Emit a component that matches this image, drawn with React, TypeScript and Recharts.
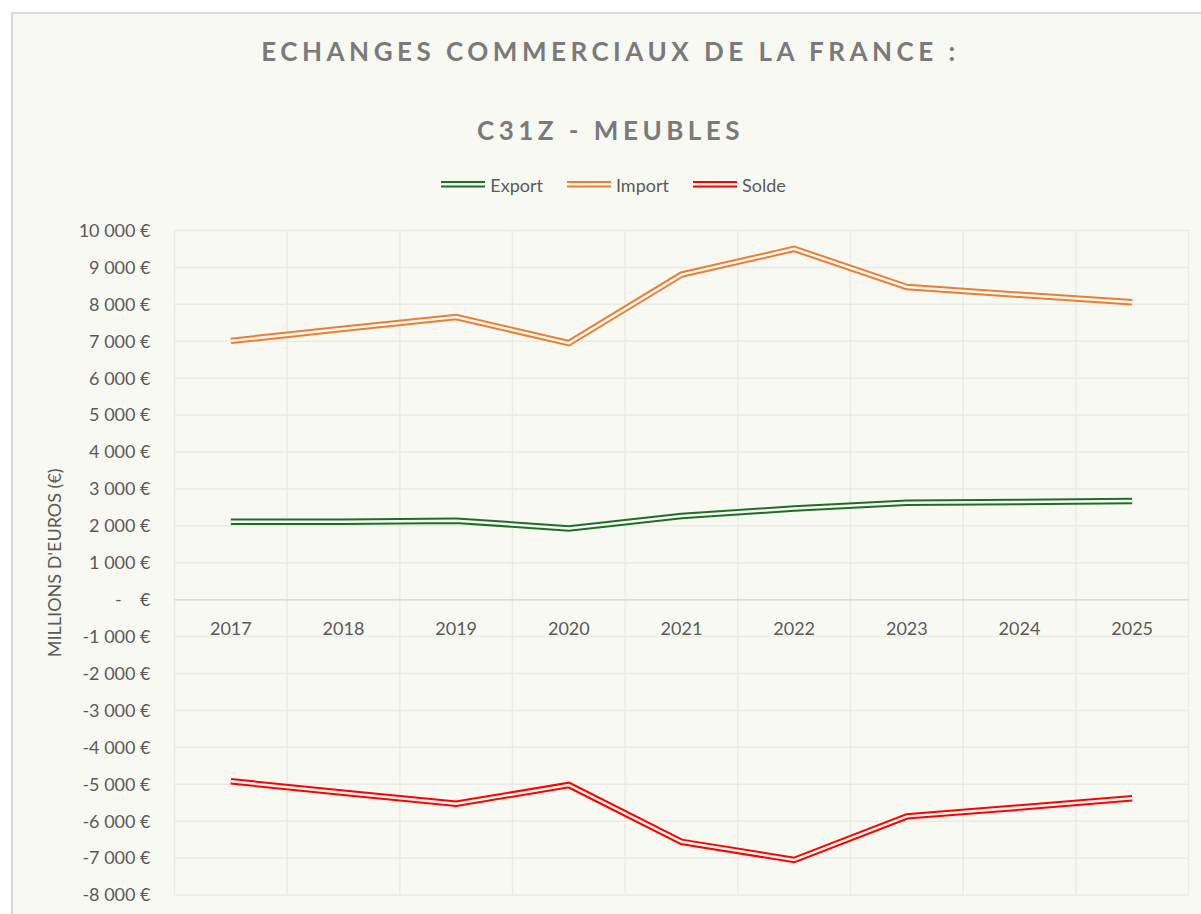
import React from 'react';
import { LineChart, Line, XAxis, YAxis, CartesianGrid, ReferenceLine } from 'recharts';

// Valeurs (millions d'euros)
const YEARS = ['2017', '2018', '2019', '2020', '2021', '2022', '2023', '2024', '2025'];
const EXPORT = [2110, 2110, 2140, 1930, 2265, 2470, 2625, 2645, 2675];
const IMPORT = [7010, 7340, 7656, 6949, 8806, 9502, 8468, 8260, 8054];
const SOLDE = [-4920, -5230, -5530, -5020, -6560, -7050, -5870, -5630, -5380];
const Y_TICKS = [-8000, -7000, -6000, -5000, -4000, -3000, -2000, -1000, 0, 1000, 2000, 3000, 4000, 5000, 6000, 7000, 8000, 9000, 10000];

const SERIES = [
  { key: 'export', name: 'Export', color: '#1f6e28' },
  { key: 'import', name: 'Import', color: '#ed7d31' },
  { key: 'solde', name: 'Solde', color: '#ff0000' },
];

const data = YEARS.map((year, i) => ({
  year,
  export: EXPORT[i],
  import: IMPORT[i],
  solde: SOLDE[i],
}));

const BG = '#f9f9f4';
const GRID = '#ebebe6';
const TEXT = '#595959';
const FONT = 'Lato, "Open Sans", sans-serif';

const CHART_W = 1195;
const CHART_H = 894;
const PLOT_TOP = 216.5;
const PLOT_BOTTOM = 881;
const Y_MIN = -8000;
const Y_MAX = 10000;
const ZERO_Y = PLOT_TOP + ((PLOT_BOTTOM - PLOT_TOP) * (Y_MAX - 0)) / (Y_MAX - Y_MIN);

function formatEuro(v: number) {
  if (v === 0) return '-\u00a0\u00a0\u00a0\u00a0€';
  const s = String(Math.abs(v)).replace(/\B(?=(\d{3})+(?!\d))/g, '\u00a0');
  return (v < 0 ? '-' : '') + s + '\u00a0€';
}

function YearTick(props: any) {
  const { x, payload } = props;
  return (
    <text x={x} y={ZERO_Y + 28} textAnchor="middle" dominantBaseline="central" fill={TEXT} fontSize={18} fontFamily={FONT}>
      {payload.value}
    </text>
  );
}

function DoubleLineIcon({ color }: { color: string }) {
  return (
    <svg width={44} height={10} style={{ display: 'block' }}>
      <rect x={0} y={1} width={44} height={6.5} fill={color} />
      <rect x={0} y={3} width={44} height={2.5} fill={BG} />
    </svg>
  );
}

export default function App() {
  return (
    <div
      style={{
        position: 'absolute',
        left: 11,
        top: 12,
        width: 1200,
        height: 910,
        border: '2px solid #d9d9d9',
        boxSizing: 'border-box',
        background: BG,
        fontFamily: FONT,
        overflow: 'hidden',
      }}
    >
      {/* Titre */}
      <div style={{ position: 'absolute', left: 0, width: CHART_W, top: 21, height: 32, lineHeight: '32px', textAlign: 'center', color: '#7a7a7a', fontWeight: 700, fontSize: 26, letterSpacing: 4.5 }}>
        ECHANGES COMMERCIAUX DE LA FRANCE :
      </div>
      <div style={{ position: 'absolute', left: 0, width: CHART_W, top: 100, height: 32, lineHeight: '32px', textAlign: 'center', color: '#7a7a7a', fontWeight: 700, fontSize: 26, letterSpacing: 4.5 }}>
        C31Z - MEUBLES
      </div>

      {/* Légende */}
      <div style={{ position: 'absolute', left: 3, width: CHART_W, top: 159, height: 24, display: 'flex', justifyContent: 'center', alignItems: 'center', gap: 24 }}>
        {SERIES.map((s) => (
          <div key={s.key} style={{ display: 'flex', alignItems: 'center', gap: 5 }}>
            <DoubleLineIcon color={s.color} />
            <span style={{ fontSize: 18, color: TEXT }}>{s.name}</span>
          </div>
        ))}
      </div>

      <div style={{ position: 'absolute', left: 0, top: 0 }}>
        <LineChart width={CHART_W} height={CHART_H} data={data} margin={{ top: PLOT_TOP, right: CHART_W - 1175.5, bottom: 0, left: 0 }}>
          <CartesianGrid
            stroke={GRID}
            strokeWidth={1.5}
            verticalCoordinatesGenerator={({ offset }: any) => {
              const n = YEARS.length;
              const left = offset?.left ?? 161.5;
              const width = offset?.width ?? 1014;
              return Array.from({ length: n + 1 }, (_, i) => left + (i * width) / n);
            }}
          />
          <XAxis
            dataKey="year"
            height={CHART_H - PLOT_BOTTOM}
            axisLine={false}
            tickLine={false}
            padding={{ left: 1014 / 18, right: 1014 / 18 }}
            tick={<YearTick />}
            interval={0}
          />
          <YAxis
            width={161.5}
            domain={[Y_MIN, Y_MAX]}
            ticks={Y_TICKS}
            interval={0}
            axisLine={false}
            tickLine={false}
            tickSize={0}
            tickMargin={24}
            tickFormatter={formatEuro}
            tick={{ fill: TEXT, fontSize: 18, fontFamily: FONT }}
            label={{
              value: "MILLIONS D'EUROS (€)",
              angle: -90,
              position: 'insideLeft',
              offset: 42,
              style: { textAnchor: 'middle', fill: TEXT, fontSize: 18, fontFamily: FONT },
            }}
          />
          <ReferenceLine y={0} stroke="#d9d9d9" strokeWidth={1.5} />
          {SERIES.map((s) => (
            <Line
              key={s.key + '-outer'}
              type="linear"
              dataKey={s.key}
              stroke={s.color}
              strokeWidth={6.5}
              dot={false}
              activeDot={false}
              isAnimationActive={false}
            />
          ))}
          {SERIES.map((s) => (
            <Line
              key={s.key + '-inner'}
              type="linear"
              dataKey={s.key}
              stroke={BG}
              strokeWidth={2.5}
              dot={false}
              activeDot={false}
              isAnimationActive={false}
            />
          ))}
        </LineChart>
      </div>
    </div>
  );
}
